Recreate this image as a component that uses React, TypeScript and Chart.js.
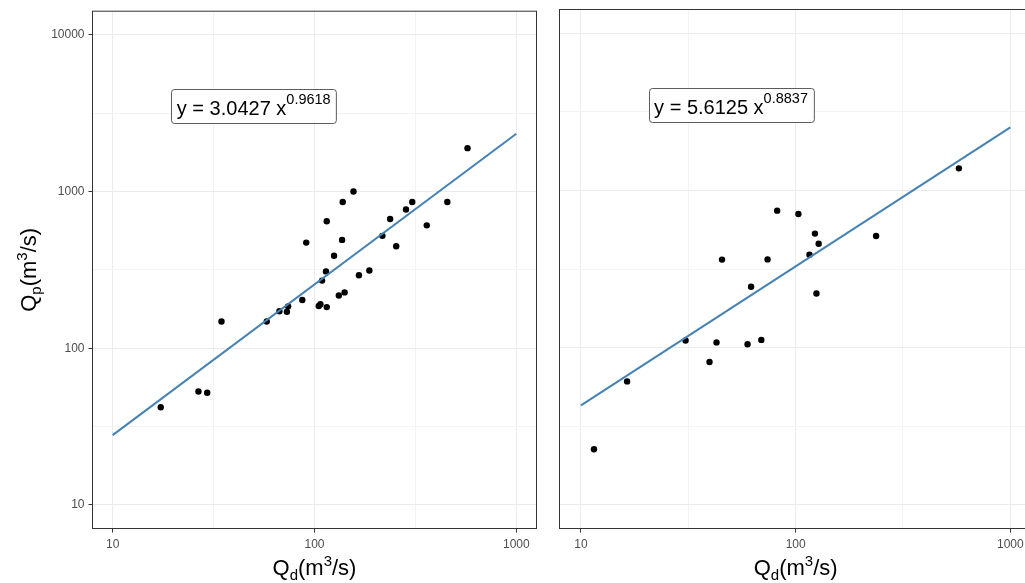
import React, { useEffect, useRef } from "react";
import { Chart, registerables } from "chart.js";

Chart.register(...registerables);

const FONT = '"Liberation Sans", Arial, Helvetica, sans-serif';

// Left panel: Qd (m3/s) vs Qp (m3/s)
const leftQd = [573, 156, 138, 305, 284, 455, 115, 237, 360, 91, 137, 217, 254, 125, 114, 109, 187, 166, 132, 141, 87, 74, 67, 73, 105, 107, 115, 58, 34.6, 26.6, 29.4, 17.3];
const leftQp = [1890, 1000, 856, 856, 768, 856, 645, 668, 608, 472, 491, 521, 447, 389, 309, 270, 313, 292, 217, 227, 203, 185, 172, 171, 186, 191, 183, 148, 148, 53, 52, 42];

// Right panel
const rightQd = [576, 82, 103, 123, 128, 116, 237, 45.4, 74, 62, 125, 30.7, 42.8, 39.7, 59.7, 69.2, 16.4, 11.5];
const rightQp = [1380, 743, 708, 531, 458, 390, 513, 363, 364, 244, 221, 111, 108, 81, 105, 112, 61, 22.6];

// Fitted power-law lines (end points)
const fitQd = [10, 1000];
const leftFitQp = [27.9, 2337];
const rightFitQp = [42.9, 2514];

// Equation labels
const leftCoef = "3.0427";
const leftExp = "0.9618";
const rightCoef = "5.6125";
const rightExp = "0.8837";
const labelQd = 50;
const labelQp = 3500;

// Axis ticks
const majorTicks = [10, 100, 1000, 10000];
const majorTickLabels = ["10", "100", "1000", "10000"];
const minorTicks = [31.62, 316.2, 3162];

const xMin = Math.pow(10, 0.9);
const xMax = Math.pow(10, 3.1);
const yMin = Math.pow(10, 0.85);
const yMax = Math.pow(10, 4.15);

// Axis titles: [text, kind]
const xTitleParts = [["Q", "n"], ["d", "sub"], ["(m", "n"], ["3", "sup"], ["/s)", "n"]];
const yTitleParts = [["Q", "n"], ["p", "sub"], ["(m", "n"], ["3", "sup"], ["/s)", "n"]];

type Part = { text: string; size: number; dy: number };

function titleParts(parts: string[][]): Part[] {
  return parts.map(([text, kind]) => ({
    text,
    size: kind === "n" ? 22 : 15,
    dy: kind === "sub" ? 5 : kind === "sup" ? -9 : 0,
  }));
}

function measureParts(ctx: CanvasRenderingContext2D, parts: Part[]) {
  let w = 0;
  for (const p of parts) {
    ctx.font = `${p.size}px ${FONT}`;
    w += ctx.measureText(p.text).width;
  }
  return w;
}

function drawParts(ctx: CanvasRenderingContext2D, parts: Part[], x: number, y: number) {
  let cx = x;
  for (const p of parts) {
    ctx.font = `${p.size}px ${FONT}`;
    ctx.fillText(p.text, cx, y + p.dy);
    cx += ctx.measureText(p.text).width;
  }
}

function roundRectPath(ctx: CanvasRenderingContext2D, x: number, y: number, w: number, h: number, r: number) {
  ctx.beginPath();
  ctx.moveTo(x + r, y);
  ctx.lineTo(x + w - r, y);
  ctx.arcTo(x + w, y, x + w, y + r, r);
  ctx.lineTo(x + w, y + h - r);
  ctx.arcTo(x + w, y + h, x + w - r, y + h, r);
  ctx.lineTo(x + r, y + h);
  ctx.arcTo(x, y + h, x, y + h - r, r);
  ctx.lineTo(x, y + r);
  ctx.arcTo(x, y, x + r, y, r);
  ctx.closePath();
}

const isMajor = (v: number) => {
  const l = Math.log10(v);
  return Math.abs(l - Math.round(l)) < 1e-6;
};

const tickLabel = (v: any) => {
  const i = majorTicks.findIndex((m) => Math.abs(m - Number(v)) < 1e-6);
  return i >= 0 ? majorTickLabels[i] : "";
};

const setTicks = (s: any) => {
  s.ticks = [...majorTicks, ...minorTicks]
    .filter((v) => v >= s.min && v <= s.max)
    .sort((p, q) => p - q)
    .map((v) => ({ value: v }));
};

function makePlugin(coef: string, exp: string, showY: boolean) {
  return {
    id: "panelDecor",
    afterDraw(chart: any) {
      const ctx: CanvasRenderingContext2D = chart.ctx;
      const a = chart.chartArea;
      const xs = chart.scales.x;
      const ys = chart.scales.y;
      ctx.save();
      // panel border
      ctx.strokeStyle = "#333333";
      ctx.lineWidth = 1;
      ctx.strokeRect(a.left, a.top, a.right - a.left, a.bottom - a.top);

      // equation label
      const eq: Part[] = [
        { text: `y = ${coef} x`, size: 20, dy: 0 },
        { text: exp, size: 14.5, dy: -11 },
      ];
      const w = measureParts(ctx, eq);
      const cx = xs.getPixelForValue(labelQd);
      const cy = ys.getPixelForValue(labelQp);
      const bw = w + 11;
      const bh = 34;
      const bx = Math.round(cx - bw / 2) + 0.5;
      const by = Math.round(cy - bh / 2) + 0.5;
      roundRectPath(ctx, bx, by, bw, bh, 3);
      ctx.fillStyle = "#ffffff";
      ctx.fill();
      ctx.strokeStyle = "#333333";
      ctx.lineWidth = 0.8;
      ctx.stroke();
      ctx.fillStyle = "#000000";
      ctx.textAlign = "left";
      ctx.textBaseline = "alphabetic";
      drawParts(ctx, eq, cx - w / 2, cy + 9);

      // x title
      const xt = titleParts(xTitleParts);
      const xw = measureParts(ctx, xt);
      drawParts(ctx, xt, (a.left + a.right) / 2 - xw / 2, 575);

      // y title
      if (showY) {
        const yt = titleParts(yTitleParts);
        const yw = measureParts(ctx, yt);
        ctx.translate(36, (a.top + a.bottom) / 2);
        ctx.rotate(-Math.PI / 2);
        drawParts(ctx, yt, -yw / 2, 0);
      }
      ctx.restore();
    },
  };
}

type PanelProps = {
  qd: number[];
  qp: number[];
  fitQp: number[];
  coef: string;
  exp: string;
  showY: boolean;
  left: number;
  width: number;
  yWidth: number;
  padRight: number;
};

function Panel(props: PanelProps) {
  const ref = useRef<HTMLCanvasElement | null>(null);
  useEffect(() => {
    const { qd, qp, fitQp, coef, exp, showY, yWidth, padRight } = props;
    const tickFont = { family: FONT, size: 12 };
    const chart = new Chart(ref.current as HTMLCanvasElement, {
      type: "scatter",
      data: {
        datasets: [
          {
            data: fitQd.map((x, i) => ({ x, y: fitQp[i] })),
            showLine: true,
            borderColor: "#4682B4",
            borderWidth: 2,
            pointRadius: 0,
            order: 0,
          } as any,
          {
            data: qd.map((x, i) => ({ x, y: qp[i] })),
            pointRadius: 3.2,
            pointBackgroundColor: "#000000",
            pointBorderWidth: 0,
            order: 1,
          } as any,
        ],
      },
      options: {
        responsive: false,
        animation: false,
        events: [],
        layout: { padding: { top: 9.5, right: padRight, left: 0, bottom: 0 } },
        plugins: { legend: { display: false }, tooltip: { enabled: false } },
        scales: {
          x: {
            type: "logarithmic",
            min: xMin,
            max: xMax,
            afterBuildTicks: setTicks,
            afterFit: (s: any) => {
              s.height = 54.5;
            },
            ticks: {
              autoSkip: false,
              maxRotation: 0,
              minRotation: 0,
              padding: 5,
              color: "#4D4D4D",
              font: tickFont,
              callback: tickLabel,
            },
            grid: {
              color: (c: any) => (c.tick && isMajor(c.tick.value) ? "#EBEBEB" : "#F3F3F3"),
              lineWidth: 1,
              drawTicks: true,
              tickLength: 4,
              tickColor: (c: any) => (c.tick && isMajor(c.tick.value) ? "#333333" : "rgba(0,0,0,0)"),
            },
            border: { display: false },
          } as any,
          y: {
            type: "logarithmic",
            min: yMin,
            max: yMax,
            afterBuildTicks: setTicks,
            afterFit: (s: any) => {
              s.width = yWidth;
            },
            ticks: {
              display: showY,
              autoSkip: false,
              padding: 4,
              color: "#4D4D4D",
              font: tickFont,
              callback: tickLabel,
            },
            grid: {
              color: (c: any) => (c.tick && isMajor(c.tick.value) ? "#EBEBEB" : "#F3F3F3"),
              lineWidth: 1,
              drawTicks: showY,
              tickLength: showY ? 4 : 0,
              tickColor: (c: any) => (c.tick && isMajor(c.tick.value) ? "#333333" : "rgba(0,0,0,0)"),
            },
            border: { display: false },
          } as any,
        },
      },
      plugins: [makePlugin(coef, exp, showY)],
    });
    return () => chart.destroy();
  }, []);
  return (
    <canvas
      ref={ref}
      width={props.width}
      height={583}
      style={{ position: "absolute", left: props.left, top: 0, width: props.width, height: 583 }}
    />
  );
}

export default function App() {
  return (
    <div
      style={{
        position: "absolute",
        left: 0,
        top: 0,
        width: 1025,
        height: 583,
        overflow: "hidden",
        background: "#ffffff",
      }}
    >
      <Panel qd={leftQd} qp={leftQp} fitQp={leftFitQp} coef={leftCoef} exp={leftExp} showY={true} left={0} width={546} yWidth={92.5} padRight={9.5} />
      <Panel qd={rightQd} qp={rightQp} fitQp={rightFitQp} coef={rightCoef} exp={rightExp} showY={false} left={548} width={492} yWidth={11.5} padRight={8.2} />
    </div>
  );
}
